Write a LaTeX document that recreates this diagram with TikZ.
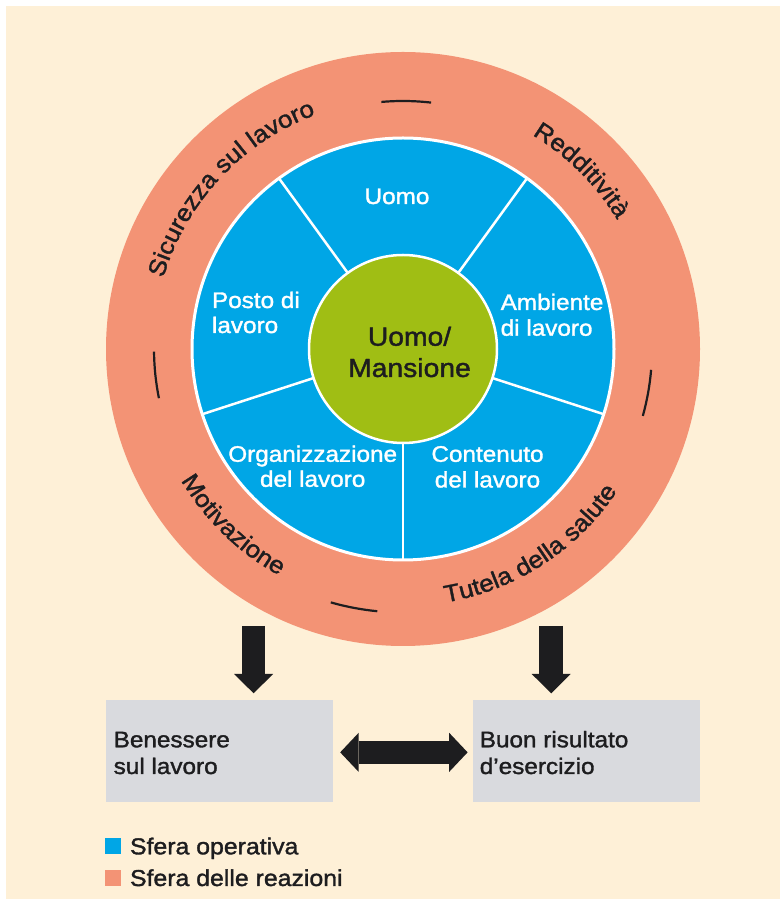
\documentclass[tikz,border=0pt]{standalone}
\usepackage{fontspec}
\setmainfont[FakeStretch=1.08,FakeBold=1.5]{Liberation Sans}
\usetikzlibrary{calc,decorations.text,arrows.meta}
\definecolor{cream}{RGB}{254,240,215}
\definecolor{salmon}{RGB}{243,147,117}
\definecolor{sky}{RGB}{0,166,230}
\definecolor{lime}{RGB}{160,190,20}
\definecolor{boxgray}{RGB}{217,218,222}
\definecolor{ink}{RGB}{29,29,31}
\newcommand{\fntmain}{\fontsize{22.5pt}{25pt}\selectfont}
\newcommand{\fntring}{\fontsize{24pt}{27pt}\selectfont}
\newcommand{\fntbig}{\fontsize{26.2pt}{30pt}\selectfont}
\newcommand{\fntleg}{\fontsize{23pt}{26pt}\selectfont}
\begin{document}
\begin{tikzpicture}[x=1pt,y=1pt,
  every node/.style={inner sep=0pt, outer sep=0pt},
  wlabel/.style={text=white, font=\fntmain, anchor=base},
  wlabelw/.style={text=white, font=\fntmain, anchor=base west},
  dlabel/.style={text=ink, font=\fntmain, anchor=base west},
  corelabel/.style={text=ink, font=\fntbig, anchor=base},
  resbox/.style={fill=boxgray, minimum width=227.5pt, minimum height=101.7pt},
  divider/.style={white, line width=2.5pt},
  ringdash/.style={ink, line width=2.2pt},
  downarrow/.style={ink, line width=23.7pt, -{Triangle[width=39pt,length=19.3pt,line width=0pt]}},
  dblarrow/.style={ink, line width=23.3pt, {Triangle[width=39pt,length=18.4pt,line width=0pt]}-{Triangle[width=39pt,length=18.4pt,line width=0pt]}},
  ringtext/.style={decorate, decoration={text along path, text align=center, text={|\color{ink}\fntring|#1}}}
]
\useasboundingbox (0,0) rectangle (780,908);
\fill[white] (0,0) rectangle (780,908);
\fill[cream] (6,9) rectangle (780,902);

\coordinate (C) at (403,559);
% reaction sphere
\fill[salmon] (C) circle[radius=297];
% operative sphere
\filldraw[fill=sky, draw=white, line width=3pt] (C) circle[radius=211];
\foreach \a in {54,126,198,270,342}
  \draw[divider] ($(C)+(\a:93)$) -- ($(C)+(\a:211)$);
\node[circle, fill=lime, draw=white, line width=2.5pt, minimum size=188pt] (core) at (C) {};

% ring dashes
\draw[ringdash] ($(C)+(95:248)$) arc[start angle=95, end angle=83.5, radius=248];
\draw[ringdash] ($(C)+(180.6:249)$) arc[start angle=180.6, end angle=191.4, radius=249];
\draw[ringdash] ($(C)+(-4.8:249)$) arc[start angle=-4.8, end angle=-15.6, radius=249];
\draw[ringdash] ($(C)+(254.1:263.5)$) arc[start angle=254.1, end angle=264.4, radius=263.5];

% ring texts
\path[ringtext={Sicurezza sul lavoro}] ($(C)+(197:250)$) arc[start angle=197, end angle=77, radius=250];
\path[ringtext={Redditività}] ($(C)+(105:250)$) arc[start angle=105, end angle=-15, radius=250];
\path[ringtext={Motivazione}] ($(C)+(166:258)$) arc[start angle=166, end angle=286, radius=258];
\path[ringtext={Tutela della salute}] ($(C)+(243:257)$) arc[start angle=243, end angle=363, radius=257];

% segment labels
\node[wlabel] (uomo) at (397,704) {Uomo};
\node[wlabelw] (posto1) at (212,600) {Posto di};
\node[wlabelw] (posto2) at (212,575) {lavoro};
\node[wlabelw] (amb1) at (500.7,598) {Ambiente};
\node[wlabelw] (amb2) at (500.7,572.3) {di lavoro};
\node[wlabel] (org1) at (312.7,446.2) {Organizzazione};
\node[wlabel] (org2) at (312.7,421.2) {del lavoro};
\node[wlabel] (cont1) at (487.5,446.2) {Contenuto};
\node[wlabel] (cont2) at (487.5,420.5) {del lavoro};
\node[corelabel] (core1) at (409.5,562.3) {Uomo/};
\node[corelabel] (core2) at (409.5,531) {Mansione};

% result boxes
\node[resbox] (b1) at (219.25,157.15) {};
\node[resbox, minimum width=226.5pt] (b2) at (586.25,157.15) {};
\node[dlabel] (b1t1) at (113.7,160.7) {Benessere};
\node[dlabel] (b1t2) at (113.7,134) {sul lavoro};
\node[dlabel] (b2t1) at (479.8,160.7) {Buon risultato};
\node[dlabel] (b2t2) at (479.8,134) {d’esercizio};

% arrows
\coordinate (s1) at (253.6,282);
\coordinate (s2) at (551.2,282);
\draw[downarrow] (s1) -- ($(b1.north -| s1)+(0,6.7)$);
\draw[downarrow] (s2) -- ($(b2.north -| s2)+(0,6.7)$);
\draw[dblarrow] ($(b1.east)+(7.2,-1.5)$) -- ($(b2.west)+(-5.4,-1.5)$);

% legend
\node[fill=sky, minimum size=16pt, anchor=south west] (lg1) at (105,53.7) {};
\node[dlabel, font=\fntleg] (lt1) at (130,53.7) {Sfera operativa};
\node[fill=salmon, minimum size=16pt, anchor=south west] (lg2) at (105,21.5) {};
\node[dlabel, font=\fntleg] (lt2) at (130,22) {Sfera delle reazioni};
\end{tikzpicture}
\end{document}
